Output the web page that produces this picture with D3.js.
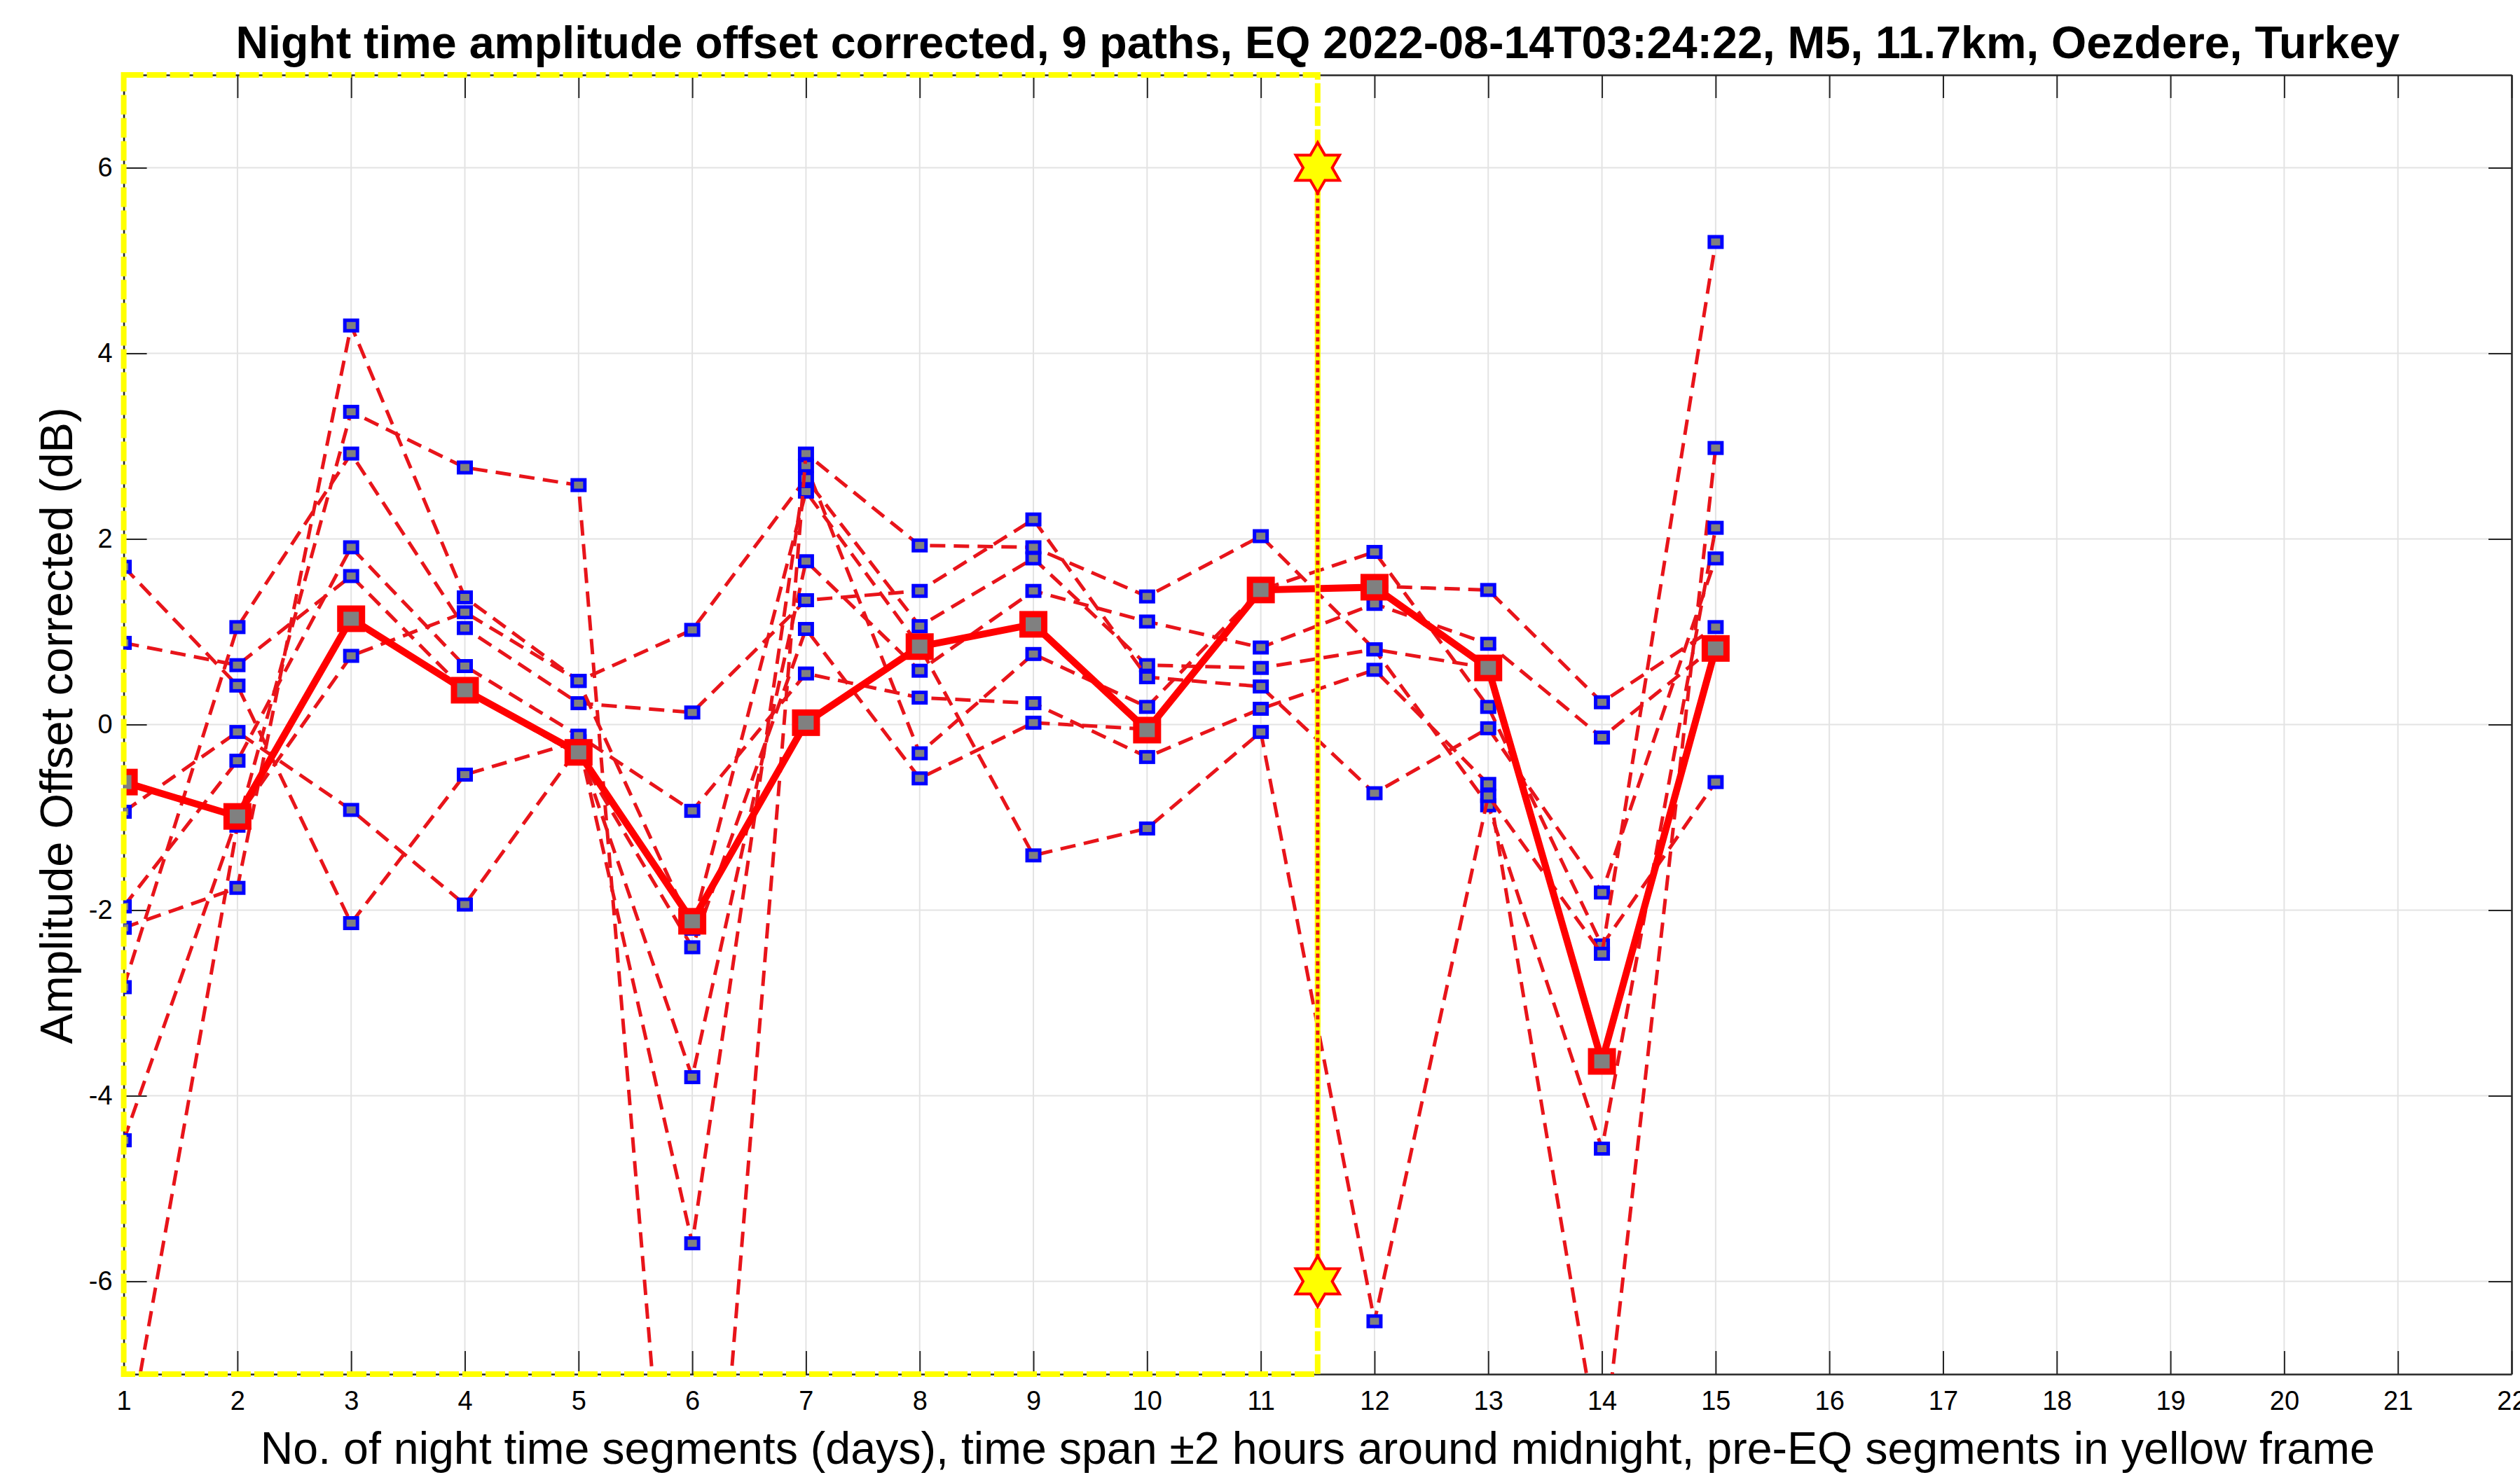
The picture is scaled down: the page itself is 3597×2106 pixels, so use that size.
<!DOCTYPE html>
<html>
<head>
<meta charset="utf-8">
<script src="https://cdn.jsdelivr.net/npm/d3@7"></script>
<style>
  html, body { margin: 0; padding: 0; background: #fff; overflow: hidden; }
  text { font-family: "Liberation Sans", Arial, Helvetica, sans-serif; fill: #000; }
</style>
</head>
<body>
<svg id="chart"></svg>
<script>
// ---- data (amplitude offset in dB per night segment) ----
const days = [1, 2, 3, 4, 5, 6, 7, 8, 9, 10, 11, 12, 13, 14, 15];

const path1 = [1.70, 0.42, -2.14, -0.54, -0.18, -5.59, 2.79, -0.31, 0.76, 0.19, 1.45, 1.86, 0.19, -2.38, -0.62];
const path2 = [0.88, 0.64, 1.60, 0.37, -0.33, -2.40, 1.03, -0.58, 0.02, -0.05, 1.45, 1.49, 1.45, 0.24, 1.05];
const path3 = [-0.94, -0.08, -0.92, -1.94, -0.25, -3.80, 1.76, 0.58, 1.44, 1.11, 0.83, 1.30, 0.87, -0.14, 0.85];
const path4 = [-1.96, -0.39, 1.91, 0.63, -0.12, -0.93, 0.55, 0.29, 0.23, -0.35, 0.17, 0.59, -0.64, -8.00, 2.98];
const path5 = [-2.19, -1.76, 4.30, 1.37, 0.47, 1.02, 2.65, 1.06, 1.79, 0.64, 0.61, 0.81, -0.87, -4.57, 2.12];
const path6 = [-2.83, 1.05, 2.92, 1.04, 0.23, 0.13, 1.34, 1.44, 2.21, 0.51, 0.41, -0.74, -0.04, -1.81, 1.79];
const path7 = [-4.48, -1.00, 0.74, 1.21, 0.47, -2.20, 2.51, 0.84, -1.41, -1.12, -0.08, -6.43, -0.77, -2.47, 5.20];
const path8 = [-8.00, -1.09, 3.37, 2.77, 2.58, -12.20, 2.92, 1.93, 1.91, 1.38, 2.03, 0.81, 0.61, -3.63, 0.82];
const path9 = [-0.62, -0.99, 1.14, 0.37, -0.33, -2.12, 0.03, 0.84, 1.08, -0.05, 1.45, 1.49, 0.61, -3.63, 0.82];

const meanOffset = [-0.62, -0.99, 1.14, 0.37, -0.30, -2.12, 0.02, 0.84, 1.08, -0.06, 1.45, 1.48, 0.61, -3.63, 0.82];

const xTickValues = [1, 2, 3, 4, 5, 6, 7, 8, 9, 10, 11, 12, 13, 14, 15, 16, 17, 18, 19, 20, 21, 22];
const yTickValues = [-6, -4, -2, 0, 2, 4, 6];

const eqDay = 11.5;          // earthquake time
const starLevels = [6, -6];  // hexagram markers on the EQ line
const frameDays = [1, 11.5]; // pre-EQ segments (yellow frame)

const titleText = "Night time amplitude offset corrected, 9 paths, EQ 2022-08-14T03:24:22, M5, 11.7km, Oezdere, Turkey";
const xLabelText = "No. of night time segments (days), time span \u00B12 hours around midnight, pre-EQ segments in yellow frame";
const yLabelText = "Amplitude Offset corrected (dB)";

const paths = [path1, path2, path3, path4, path5, path6, path7, path8, path9];

// ---- layout ----
const width = 3597;
const height = 2106;
const plot = { left: 176.6, right: 3585, top: 107, bottom: 1962 };

const svg = d3.select("#chart")
  .attr("width", width)
  .attr("height", height);

const x = d3.scaleLinear().domain([1, 22]).range([plot.left, plot.right]);
const y = d3.scaleLinear().domain([-7, 7]).range([plot.bottom, plot.top]);

svg.append("defs").append("clipPath")
  .attr("id", "plot-clip")
  .append("rect")
    .attr("x", plot.left).attr("y", plot.top)
    .attr("width", plot.right - plot.left)
    .attr("height", plot.bottom - plot.top);

// grid
const grid = svg.append("g").attr("class", "grid");
grid.selectAll(".vgrid")
  .data(xTickValues)
  .enter().append("line")
    .attr("x1", d => x(d)).attr("x2", d => x(d))
    .attr("y1", plot.top).attr("y2", plot.bottom)
    .attr("stroke", "#e3e3e3").attr("stroke-width", 2);
grid.selectAll(".hgrid")
  .data(yTickValues)
  .enter().append("line")
    .attr("x1", plot.left).attr("x2", plot.right)
    .attr("y1", d => y(d)).attr("y2", d => y(d))
    .attr("stroke", "#e3e3e3").attr("stroke-width", 2);

// axes (ticks point inward, box on all four sides)
const axisColor = "#262626";
function styleAxis(g) {
  g.select(".domain").attr("stroke", axisColor).attr("stroke-width", 2.5);
  g.selectAll(".tick line").attr("stroke", axisColor).attr("stroke-width", 2);
  g.selectAll(".tick text")
    .attr("font-size", 38)
    .attr("fill", "#262626")
    .style("font-family", '"Liberation Sans", Arial, Helvetica, sans-serif');
}

svg.append("g")
  .attr("transform", `translate(0,${plot.bottom})`)
  .call(d3.axisBottom(x).tickValues(xTickValues).tickSizeInner(-33).tickSizeOuter(0).tickPadding(24).tickFormat(d3.format("d")))
  .call(styleAxis);

svg.append("g")
  .attr("transform", `translate(0,${plot.top})`)
  .call(d3.axisTop(x).tickValues(xTickValues).tickSizeInner(-33).tickSizeOuter(0).tickFormat(""))
  .call(styleAxis);

svg.append("g")
  .attr("transform", `translate(${plot.left},0)`)
  .call(d3.axisLeft(y).tickValues(yTickValues).tickSizeInner(-33).tickSizeOuter(0).tickPadding(16).tickFormat(d => String(d)))
  .call(styleAxis);

svg.append("g")
  .attr("transform", `translate(${plot.right},0)`)
  .call(d3.axisRight(y).tickValues(yTickValues).tickSizeInner(-33).tickSizeOuter(0).tickFormat(""))
  .call(styleAxis);

// ---- data layer ----
const dataLayer = svg.append("g").attr("clip-path", "url(#plot-clip)");

const line = d3.line()
  .x((d, i) => x(days[i]))
  .y(d => y(d));

const pathMarker = { w: 18, h: 15 };
paths.forEach(values => {
  const g = dataLayer.append("g");
  g.append("path")
    .datum(values)
    .attr("d", line)
    .attr("fill", "none")
    .attr("stroke", "#e8141a")
    .attr("stroke-width", 5)
    .attr("stroke-dasharray", "22,12");
  g.selectAll("rect")
    .data(values)
    .enter().append("rect")
      .attr("x", (d, i) => x(days[i]) - pathMarker.w / 2)
      .attr("y", d => y(d) - pathMarker.h / 2)
      .attr("width", pathMarker.w)
      .attr("height", pathMarker.h)
      .attr("fill", "#808080")
      .attr("stroke", "#0000ff")
      .attr("stroke-width", 5);
});

// mean over all paths
const meanMarker = { w: 31, h: 29 };
dataLayer.append("path")
  .datum(meanOffset)
  .attr("d", line)
  .attr("fill", "none")
  .attr("stroke", "#ff0000")
  .attr("stroke-width", 10);
dataLayer.selectAll(".mean-marker")
  .data(meanOffset)
  .enter().append("rect")
    .attr("class", "mean-marker")
    .attr("x", (d, i) => x(days[i]) - meanMarker.w / 2)
    .attr("y", d => y(d) - meanMarker.h / 2)
    .attr("width", meanMarker.w)
    .attr("height", meanMarker.h)
    .attr("fill", "#808080")
    .attr("stroke", "#ff0000")
    .attr("stroke-width", 9);

// ---- yellow frame around pre-EQ segments ----
svg.append("rect")
  .attr("x", x(frameDays[0]))
  .attr("y", y(7))
  .attr("width", x(frameDays[1]) - x(frameDays[0]))
  .attr("height", y(-7) - y(7))
  .attr("fill", "none")
  .attr("stroke", "#ffff00")
  .attr("stroke-width", 8)
  .attr("stroke-dasharray", "28,5");

// EQ line between the two stars
svg.append("line")
  .attr("x1", x(eqDay)).attr("x2", x(eqDay))
  .attr("y1", y(starLevels[0])).attr("y2", y(starLevels[1]))
  .attr("stroke", "#ffff00")
  .attr("stroke-width", 8);
svg.append("line")
  .attr("x1", x(eqDay)).attr("x2", x(eqDay))
  .attr("y1", y(starLevels[0])).attr("y2", y(starLevels[1]))
  .attr("stroke", "#e8141a")
  .attr("stroke-width", 5)
  .attr("stroke-dasharray", "6,5");

// hexagram symbol for d3.symbol
const hexagram = {
  draw(context, size) {
    const R = Math.sqrt(size);
    const r = R / Math.sqrt(3);
    for (let k = 0; k < 12; k++) {
      const a = -Math.PI / 2 + k * Math.PI / 6;
      const rad = k % 2 === 0 ? R : r;
      const px = rad * Math.cos(a), py = rad * Math.sin(a);
      if (k === 0) context.moveTo(px, py); else context.lineTo(px, py);
    }
    context.closePath();
  }
};

svg.selectAll(".eq-star")
  .data(starLevels)
  .enter().append("path")
    .attr("class", "eq-star")
    .attr("transform", d => `translate(${x(eqDay)},${y(d)})`)
    .attr("d", d3.symbol().type(hexagram).size(36 * 36))
    .attr("fill", "#ffff00")
    .attr("stroke", "#ff0000")
    .attr("stroke-width", 4)
    .attr("stroke-linejoin", "miter");

// ---- texts ----
svg.append("text")
  .attr("x", (plot.left + plot.right) / 2)
  .attr("y", 83)
  .attr("text-anchor", "middle")
  .attr("font-size", 64.5)
  .attr("font-weight", "bold")
  .text(titleText);

svg.append("text")
  .attr("x", (plot.left + plot.right) / 2)
  .attr("y", 2090)
  .attr("text-anchor", "middle")
  .attr("font-size", 64.5)
  .attr("fill", "#262626")
  .text(xLabelText);

svg.append("text")
  .attr("transform", `translate(103,1036) rotate(-90)`)
  .attr("text-anchor", "middle")
  .attr("font-size", 65)
  .attr("fill", "#262626")
  .text(yLabelText);
</script>
</body>
</html>
